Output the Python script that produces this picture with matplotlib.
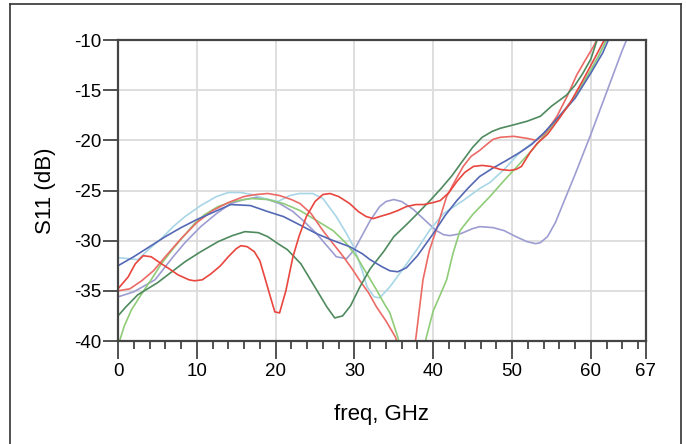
import matplotlib.pyplot as plt
from matplotlib.lines import Line2D

################# DATOS #################################################

# azul
f_azul = [0, 2, 4, 6, 8, 10, 12, 14.3, 16.8, 19, 21, 23, 25.2, 27, 29.4, 31, 32, 33.5, 34.5,
          35.5, 36.6, 38, 40, 41.5, 43, 44.5, 45.9, 47.5, 49.3, 51, 52.5, 54, 56, 58, 60, 61.5, 62.5]
s11_azul = [-32.5, -31.6, -30.6, -29.6, -28.7, -27.9, -27.2, -26.4, -26.5, -27.1, -27.6, -28.4,
            -29.3, -29.9, -30.6, -31.3, -31.9, -32.6, -33.0, -33.1, -32.7, -31.5, -29.3, -27.5,
            -26.0, -24.7, -23.6, -22.8, -22.0, -21.2, -20.4, -19.3, -17.6, -15.8, -13.3, -11.3, -9.5]

# verde oscuro
f_verde_osc = [0, 1, 2.5, 5, 8.5, 10.5, 12.7, 14.5, 16.1, 17.8, 19, 20.3, 21.5, 23.2, 25.2, 26.5,
               27.5, 28.5, 29.5, 30.7, 32, 33.7, 35, 36.6, 38, 39.6, 41, 42.4, 43.5, 45, 46.2,
               47.5, 48.5, 50, 51.9, 53.6, 55, 56.9, 58, 59, 60, 61]
s11_verde_osc = [-37.5, -36.6, -35.4, -34.2, -32.1, -31.1, -30.1, -29.5, -29.1, -29.2, -29.6,
                 -30.3, -30.9, -32.3, -34.9, -36.6, -37.7, -37.5, -36.5, -34.6, -32.8, -31.1,
                 -29.6, -28.4, -27.3, -26.0, -24.8, -23.5, -22.3, -20.7, -19.7, -19.1, -18.8,
                 -18.5, -18.1, -17.6, -16.6, -15.5, -14.5, -13.3, -11.9, -9.5]

# verde claro (cae fuera de escala entre 35 y 39 GHz)
f_verde_cla = [0, 0.8, 1.7, 3, 4.2, 5.5, 7.2, 8.5, 9.7, 11, 12.7, 14.5, 16.9, 19, 21, 23.1, 25,
               27.3, 29, 30.3, 31.5, 32.8, 33.8, 34.5, 35.5, 36.5, 37.5, 38.3, 39.1, 40, 41,
               41.7, 42.5, 43.4, 45, 47.2, 49, 51, 52.5, 54, 55.5, 57, 58.5, 60, 61, 62.3]
s11_verde_cla = [-40.5, -38.5, -36.9, -35.3, -33.9, -32.3, -30.6, -29.4, -28.3, -27.4, -26.6,
                 -26.1, -25.8, -25.9, -26.3, -27.0, -27.9, -29.0, -30.3, -31.6, -33.2, -34.9,
                 -36.3, -37.2, -39.6, -43, -46, -43, -39.7, -37.0, -35.2, -33.9, -31.3, -29.0,
                 -27.4, -25.6, -24.0, -22.3, -21.0, -19.6, -18.2, -16.7, -15.0, -13.0, -11.6, -9.5]

# celeste
f_celeste = [0, 1.5, 2.5, 4, 5.5, 7, 8.5, 10.5, 12.5, 14, 15.6, 17, 18.6, 20.3, 21.8, 23, 24.7,
             26, 27.7, 29, 29.9, 31, 31.6, 32.5, 33.2, 34.5, 36, 38, 39.6, 41.3, 43.8, 45.9,
             47.2, 49, 51, 52.5, 54, 55.5, 57, 58.5, 60, 61, 62]
s11_celeste = [-31.7, -31.8, -31.9, -30.8, -29.8, -28.6, -27.6, -26.5, -25.6, -25.2, -25.2,
               -25.4, -25.8, -26.1, -25.5, -25.3, -25.3, -25.8, -27.6, -29.3, -30.6, -33.0,
               -34.6, -35.6, -35.7, -34.6, -33.0, -30.8, -28.9, -27.3, -26.0, -24.8, -24.2,
               -22.9, -21.2, -20.3, -19.3, -18.0, -16.6, -15.0, -13.0, -11.5, -9.8]

# lavanda
f_lavanda = [0, 2, 4.7, 7, 8.5, 10.5, 12.5, 14.3, 16, 17.5, 19, 20.5, 22.2, 23.5, 25.2, 26.5,
             27.7, 29, 30, 31.1, 32, 33.2, 34, 35, 36, 37.5, 39, 40.4, 41.3, 42.1, 43.5, 45,
             45.9, 47.6, 49, 50.5, 51.9, 53, 53.6, 54.5, 55.5, 56.9, 58, 59, 60, 61, 62, 63,
             64, 64.8]
s11_lavanda = [-35.6, -35.1, -33.9, -31.6, -30.2, -28.6, -27.3, -26.3, -25.9, -25.7, -25.9,
               -26.3, -27.1, -28.0, -29.3, -30.5, -31.6, -31.8, -30.9, -29.3, -28.0, -26.6,
               -26.1, -25.9, -26.1, -26.9, -28.0, -29.0, -29.4, -29.5, -29.3, -28.8, -28.6,
               -28.7, -29.0, -29.6, -30.1, -30.3, -30.2, -29.6, -28.2, -25.5, -23.4, -21.4,
               -19.4, -17.3, -15.2, -13.1, -11.0, -9.5]

# rojo
f_rojo = [0, 1.3, 2.2, 3.2, 4.2, 5.5, 6.5, 7.6, 9, 9.7, 10.7, 11.8, 13, 14, 15, 15.6, 16.4, 17.3,
          18, 18.6, 19.3, 19.9, 20.5, 21.3, 22.2, 23, 23.9, 25, 26, 26.9, 28, 29.4, 30.5, 31.5,
          32.4, 33.2, 34.5, 35.5, 36.6, 37.8, 38.8, 40, 40.9, 42, 43, 44, 45.1, 46.2, 47.3, 48.5,
          49.7, 50.5, 51.2, 52.3, 53.2, 54.5, 56, 57.5, 59, 60.5, 61.5, 62.2]
s11_rojo = [-34.8, -33.6, -32.3, -31.5, -31.6, -32.3, -32.8, -33.4, -33.9, -34.0, -33.9, -33.3,
            -32.5, -31.6, -30.8, -30.5, -30.6, -31.1, -32.0, -33.6, -35.5, -37.1, -37.2, -35.0,
            -31.6, -29.5, -27.6, -26.1, -25.4, -25.3, -25.6, -26.3, -27.1, -27.6, -27.8, -27.6,
            -27.3, -27.0, -26.6, -26.4, -26.4, -26.2, -26.0, -25.2, -24.1, -23.2, -22.6, -22.5,
            -22.6, -22.9, -23.0, -22.9, -22.6, -21.2, -20.3, -19.4, -17.8, -16.1, -14.0, -11.8,
            -10.3, -9.3]

# salmon (cae fuera de escala entre 35 y 38 GHz)
f_salmon = [0, 1.5, 3, 4.5, 6, 8, 10, 12, 14, 16, 17.5, 19, 20.5, 22, 23.1, 24.5, 26, 27.3, 28.6,
            29.7, 30.7, 31.8, 32.8, 34, 35.2, 36.2, 37, 37.8, 38.7, 39.5, 40.4, 41.7, 42.8, 43.8,
            44.8, 45.9, 46.8, 47.6, 48.5, 50.2, 51.9, 53.1, 54.3, 55.7, 57, 58.2, 59.3, 60.3, 61.2]
s11_salmon = [-35.0, -34.8, -34.0, -33.0, -31.6, -29.8, -28.2, -27.0, -26.2, -25.6, -25.4, -25.3,
              -25.5, -25.9, -26.3, -27.3, -29.0, -30.3, -31.6, -32.8, -34.0, -35.2, -36.6, -38.0,
              -39.6, -42, -43, -39.7, -33.9, -31.0, -28.9, -25.6, -24.0, -22.6, -21.6, -21.0,
              -20.4, -19.9, -19.7, -19.6, -19.8, -20.0, -19.2, -17.6, -15.6, -13.5, -12.0, -10.7,
              -9.3]

curvas = [
    (f_lavanda, s11_lavanda, '#9d9dd2'),
    (f_celeste, s11_celeste, '#a8d6e6'),
    (f_verde_cla, s11_verde_cla, '#8fcc78'),
    (f_salmon, s11_salmon, '#ec6a66'),
    (f_verde_osc, s11_verde_osc, '#4f8a5e'),
    (f_azul, s11_azul, '#5468b4'),
    (f_rojo, s11_rojo, '#e8463e'),
]

ticks_x = [0, 10, 20, 30, 40, 50, 60, 67]
ticks_y = [-40, -35, -30, -25, -20, -15, -10]

################# GRAFICA ############################

plt.rcParams['font.family'] = ['Liberation Sans', 'DejaVu Sans']

fig = plt.figure(figsize=(6.86, 4.44), dpi=100)
ax = fig.add_axes([118 / 686, 1 - 341 / 444, 528 / 686, 301 / 444])

for f, s, color in curvas:
    ax.plot(f, s, color=color, linewidth=1.2)

ax.set_xlim(0, 67)
ax.set_ylim(-40, -10)
ax.set_xticks(ticks_x)
ax.set_xticks(range(0, 67, 2), minor=True)
ax.set_yticks(ticks_y)
ax.set_yticklabels([str(t) for t in ticks_y])
ax.tick_params(axis='x', which='major', direction='out', length=13, width=1.3,
               color='#444444', labelsize=13.5, pad=3)
ax.tick_params(axis='x', which='minor', direction='out', length=6, width=1.3, color='#444444')
ax.tick_params(axis='y', which='major', direction='out', length=11, width=1.3,
               color='#444444', labelsize=13.5, pad=1)

ax.grid(True, which='major', color='#dcdcdc', linewidth=1.3)
ax.set_axisbelow(True)
for lado in ['left', 'bottom', 'top', 'right']:
    ax.spines[lado].set_color('#444444')
    ax.spines[lado].set_linewidth(1.6)

ax.set_xlabel('freq, GHz', fontsize=16, labelpad=17)
ax.set_ylabel('S11 (dB)', fontsize=16, labelpad=13)

# marco exterior de la figura (sin borde inferior)
borde = dict(color='#333333', linewidth=1.2, transform=fig.transFigure)
fig.add_artist(Line2D([10 / 686, 10 / 686], [0, 1 - 4 / 444], **borde))
fig.add_artist(Line2D([10 / 686, 681 / 686], [1 - 4 / 444, 1 - 4 / 444], **borde))
fig.add_artist(Line2D([681 / 686, 681 / 686], [0, 1 - 4 / 444], **borde))

fig.savefig('out.png', dpi=100)
